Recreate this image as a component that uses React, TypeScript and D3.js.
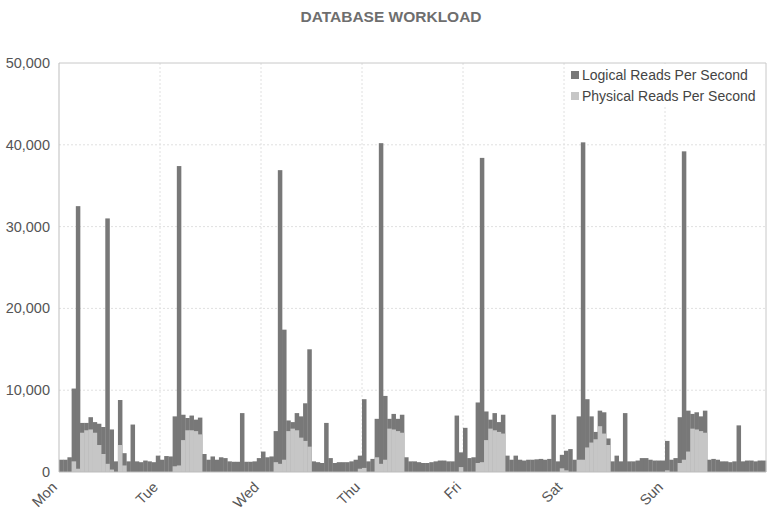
import React from "react";
import * as d3 from "d3";

const days = ["Mon", "Tue", "Wed", "Thu", "Fri", "Sat", "Sun"];
const yTicks = [0, 10000, 20000, 30000, 40000, 50000];

// hourly values, 24 per day, Mon..Sun
const logicalReads = [
  // Mon
  1500, 1500, 1800, 10200, 32500, 6000, 6000, 6700, 6100, 5900, 5500, 31000,
  5200, 1300, 8800, 2300, 1300, 5800, 1300, 1200, 1400, 1300, 1200, 2000,
  // Tue
  1500, 1950, 1900, 6800, 37400, 7000, 6600, 6900, 6400, 6650, 2200, 1500,
  1900, 1500, 1800, 1700, 1300, 1250, 1250, 7200, 1250, 1250, 1300, 1700,
  // Wed
  2500, 1800, 1900, 5000, 36900, 17400, 6300, 6100, 7200, 6800, 8400, 15000,
  1300, 1200, 1100, 6000, 1700, 1100, 1200, 1200, 1200, 1300, 1500, 2000,
  // Thu
  8900, 1300, 1600, 6500, 40200, 9300, 6500, 7100, 6500, 7000, 1800, 1300,
  1300, 1200, 1100, 1100, 1200, 1300, 1400, 1400, 1300, 1300, 6900, 2400,
  // Fri
  5400, 1700, 1800, 8500, 38400, 7400, 6400, 7200, 6100, 7000, 2000, 1500,
  2000, 1500, 1400, 1500, 1500, 1550, 1600, 1500, 1600, 7000, 1300, 2100,
  // Sat
  2600, 2800, 1500, 6800, 40300, 8900, 6800, 4900, 7500, 7300, 4100, 1300,
  2000, 1300, 7200, 1300, 1300, 1400, 1700, 1700, 1500, 1400, 1400, 1400,
  // Sun
  3800, 1500, 1700, 6700, 39200, 7500, 7100, 7300, 6800, 7500, 1500, 1600,
  1500, 1300, 1300, 1200, 1300, 5700, 1300, 1400, 1400, 1300, 1400, 1400,
];

const physicalReads = [
  // Mon
  0, 0, 0, 1300, 400, 4800, 5100, 5200, 4800, 3300, 2200, 1000,
  300, 0, 3300, 800, 0, 0, 0, 0, 0, 0, 0, 0,
  // Tue
  0, 0, 0, 700, 800, 3900, 5100, 5100, 5000, 4600, 0, 0,
  0, 0, 0, 0, 0, 0, 0, 0, 0, 0, 0, 0,
  // Wed
  0, 0, 0, 1200, 1000, 1500, 5000, 5300, 5100, 4200, 3800, 3100,
  0, 0, 0, 0, 0, 0, 0, 0, 0, 0, 0, 400,
  // Thu
  500, 0, 0, 1800, 1000, 1500, 5300, 5200, 5000, 4800, 0, 0,
  0, 0, 0, 0, 0, 0, 0, 0, 0, 0, 0, 600,
  // Fri
  0, 0, 0, 1100, 1200, 3900, 5300, 5100, 4900, 4700, 0, 0,
  0, 0, 0, 0, 0, 0, 0, 0, 0, 0, 0, 450,
  // Sat
  200, 0, 0, 1500, 1500, 3000, 3600, 4000, 5600, 4700, 3300, 0,
  0, 0, 0, 0, 0, 0, 0, 0, 0, 0, 0, 0,
  // Sun
  200, 0, 0, 1100, 1500, 2500, 5300, 5200, 5000, 4800, 0, 0,
  0, 0, 0, 0, 0, 0, 0, 0, 0, 0, 0, 0,
];

const seriesNames = ["Logical Reads Per Second", "Physical Reads Per Second"];
const seriesColors = ["#787878", "#c6c6c6"];

const W = 767;
const H = 524;
const left = 59;
const right = 766;
const top = 63;
const bottom = 472;

export default function App() {
  const hours = logicalReads.map((_, i) => i);
  const x = d3.scaleBand<number>().domain(hours).range([left, right]).padding(0);
  const y = d3.scaleLinear().domain([0, 50000]).range([bottom, top]);
  const dayX = d3.scaleLinear().domain([0, days.length]).range([left, right]);
  const fmt = d3.format(",");
  const font = "'Liberation Sans', Arial, sans-serif";

  return (
    <svg
      width={W}
      height={H}
      style={{ position: "absolute", left: 0, top: 0, background: "#fff" }}
      fontFamily={font}
    >
      <rect x={0} y={0} width={W} height={H} fill="#fff" />
      <text
        x={391}
        y={22}
        textAnchor="middle"
        fontSize={15.5}
        fontWeight="bold"
        fill="#6e6e6e"
      >
        DATABASE WORKLOAD
      </text>

      {/* grid */}
      {yTicks.slice(1, -1).map((t) => (
        <line
          key={"gy" + t}
          x1={left}
          x2={right}
          y1={y(t)}
          y2={y(t)}
          stroke="#e0e0e0"
          strokeDasharray="2,2"
        />
      ))}
      {days.slice(1).map((d, i) => (
        <line
          key={"gx" + d}
          x1={dayX(i + 1)}
          x2={dayX(i + 1)}
          y1={top}
          y2={bottom}
          stroke="#e0e0e0"
          strokeDasharray="2,2"
        />
      ))}

      {/* bars */}
      {logicalReads.map((v, i) => (
        <rect
          key={"l" + i}
          x={x(i)!}
          y={y(v)}
          width={x.bandwidth() + 0.3}
          height={y(0) - y(v)}
          fill={seriesColors[0]}
        />
      ))}
      {physicalReads.map((v, i) =>
        v > 0 ? (
          <rect
            key={"p" + i}
            x={x(i)!}
            y={y(v)}
            width={x.bandwidth() + 0.3}
            height={y(0) - y(v)}
            fill={seriesColors[1]}
          />
        ) : null
      )}

      {/* frame */}
      <line x1={left} x2={right} y1={top} y2={top} stroke="#c8c8c8" />
      <line x1={right} x2={right} y1={top} y2={bottom} stroke="#c8c8c8" />
      <line x1={left} x2={left} y1={top} y2={bottom} stroke="#bdbdbd" />
      <line x1={left} x2={right} y1={bottom} y2={bottom} stroke="#bdbdbd" />

      {/* y labels */}
      {yTicks.map((t) => (
        <text
          key={"yl" + t}
          x={50}
          y={y(t)}
          dy="0.35em"
          textAnchor="end"
          fontSize={14.5}
          fill="#555"
        >
          {fmt(t)}
        </text>
      ))}

      {/* x labels */}
      {days.map((d, i) => (
        <text
          key={"xl" + d}
          transform={`translate(${dayX(i) - 1},${bottom + 16}) rotate(-45)`}
          textAnchor="end"
          fontSize={14.5}
          fill="#555"
        >
          {d}
        </text>
      ))}

      {/* legend */}
      <rect x={567} y={64} width={198} height={42} fill="#fff" />
      {seriesNames.map((n, i) => (
        <g key={n} transform={`translate(571,${71 + i * 21})`}>
          <rect x={0} y={0} width={8} height={8} fill={seriesColors[i]} />
          <text x={11} y={4} dy="0.35em" fontSize={14} fill="#444">
            {n}
          </text>
        </g>
      ))}
    </svg>
  );
}
